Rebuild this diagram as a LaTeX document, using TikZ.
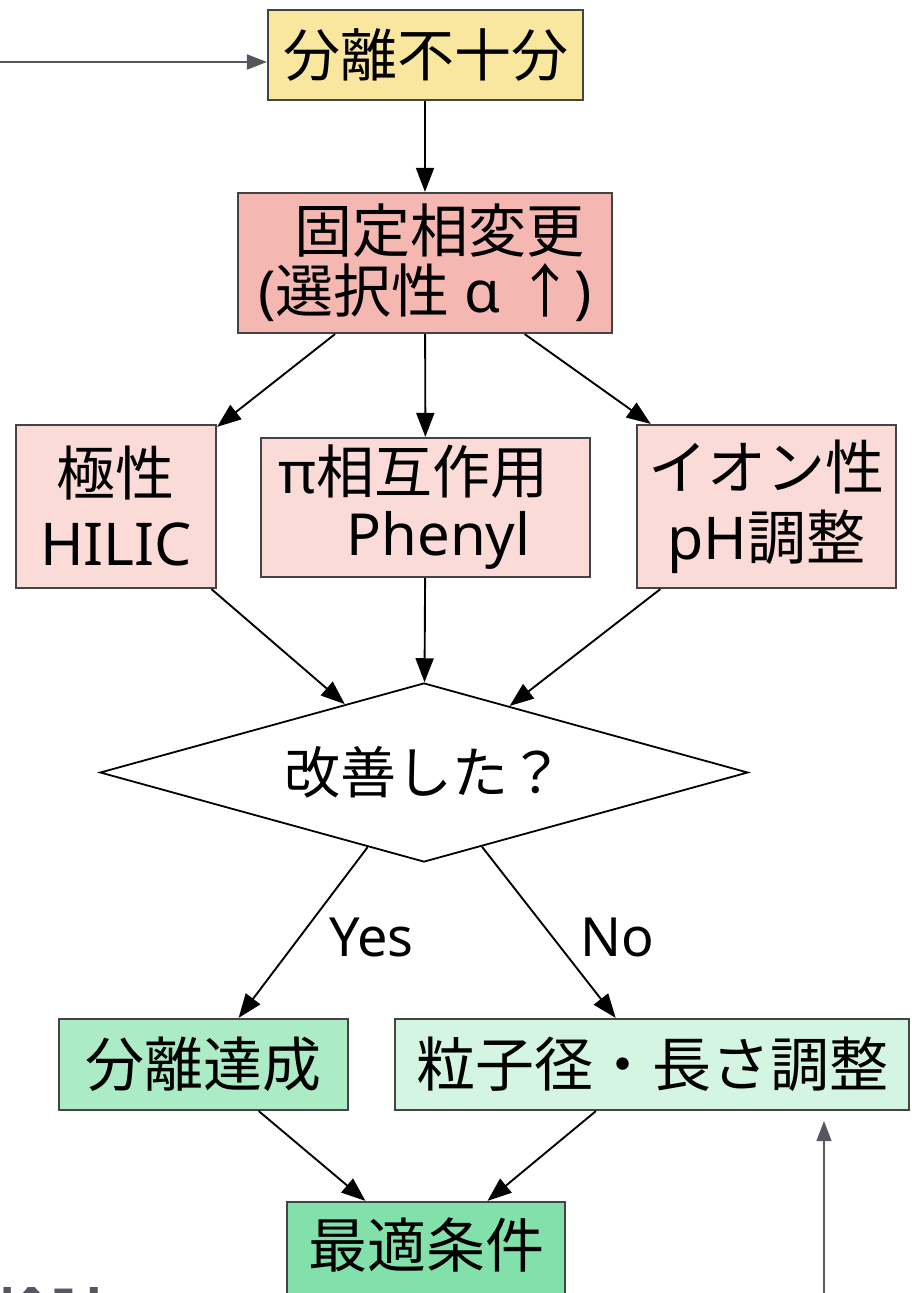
\documentclass[tikz,border=0pt]{standalone}
\usepackage{fontspec}
\setmainfont{Noto Sans}
\newfontfamily\cjk{Noto Sans CJK JP}
\usetikzlibrary{arrows.meta,shapes.geometric,calc}
\definecolor{cyellow}{HTML}{F9E79F}
\definecolor{cred}{HTML}{F5B7B1}
\definecolor{cpink}{HTML}{FADBD8}
\definecolor{cgreen}{HTML}{ABEBC6}
\definecolor{clgreen}{HTML}{D5F5E3}
\definecolor{cdgreen}{HTML}{82E0AA}
\definecolor{boxline}{HTML}{444444}
\definecolor{extgray}{HTML}{54585E}
\tikzset{
  box/.style={draw=boxline, line width=2.2pt, inner sep=0pt, align=center, text=black},
  conn/.style={draw=black, line width=1.9pt, -{Triangle[length=24pt,width=18pt]}},
  ext/.style={draw=extgray, line width=2pt, -{Triangle[length=20pt,width=15pt]}, color=extgray},
  lbl/.style={font=\fontsize{54}{60}\selectfont, text=black},
  big/.style={font=\fontsize{59}{70}\selectfont},
  mid/.style={font=\fontsize{58}{62}\selectfont}
}
\begin{document}
\begin{tikzpicture}[x=1pt,y=-1pt, font=\fontsize{58}{60}\selectfont]
\useasboundingbox (0,0) rectangle (912,1293);
\node[box, fill=cyellow, minimum width=315pt, minimum height=90pt, font=\fontsize{57}{60}\selectfont] (top) at (425.5,55) {\cjk 分離不十分};
\node[box, fill=cred, minimum width=374pt, minimum height=140pt] (red) at (425,263) {\hspace*{28pt}{\cjk 固定相変更}\\({\cjk 選択性} α {\cjk ↑})};
\node[box, big, fill=cpink, minimum width=200pt, minimum height=163pt] (left) at (116,506.5) {{\cjk 極性}\\HILIC};
\node[box, mid, fill=cpink, minimum width=329pt, minimum height=139pt] (mid) at (425.5,507.5) {π{\cjk 相互作用}\hspace*{24pt}\\\hspace*{26pt}Phenyl};
\node[box, big, fill=cpink, minimum width=259pt, minimum height=163pt] (right) at (766.5,506.5) {{\cjk イオン性}\\pH{\cjk 調整}};
\node[draw=black, line width=1.8pt, fill=white, shape=diamond, aspect=3.6, inner sep=0pt, minimum width=648pt, minimum height=179pt, font=\fontsize{56}{60}\selectfont] (dia) at (424,772.5) {\cjk 改善した？};
\node[box, big, fill=cgreen, minimum width=289pt, minimum height=91pt] (ok) at (203.5,1064.5) {\cjk 分離達成};
\node[box, big, fill=clgreen, minimum width=514pt, minimum height=91pt] (adj) at (652,1064.5) {\cjk 粒子径・長さ調整};
\node[box, fill=cdgreen, minimum width=278pt, minimum height=100pt] (best) at (426,1252) {};
\node[big] (bestt) at (426,1245) {\cjk 最適条件};
\node[anchor=base west, text=extgray, font=\fontsize{55}{60}\selectfont\cjk\bfseries] (note) at (-8,1334) {検討};
\coordinate (in1) at (0,62);
\coordinate (in2) at (824,1293);
\draw[ext] (in1) -- (in1 -| top.west);
\draw[ext, line width=1.5pt, shorten >=10pt] (in2) -- (in2 |- adj.south);
\draw[conn] (red.north |- top.south) -- (red.north);
\draw[conn] (red) -- (left);
\draw[conn] (red) -- (mid);
\draw[conn] (red) -- (right);
\draw[conn] (left) -- (dia);
\draw[conn] (mid) -- (dia);
\draw[conn] (right) -- (dia);
\draw[conn] (dia) -- node[pos=0.5, anchor=west, xshift=22pt, yshift=-5pt, lbl] {Yes} (ok);
\draw[conn] (dia) -- node[pos=0.5, anchor=west, xshift=27pt, yshift=-5pt, lbl] {No} (adj);
\draw[conn] (ok) -- (best);
\draw[conn] (adj) -- (best);
\end{tikzpicture}
\end{document}
